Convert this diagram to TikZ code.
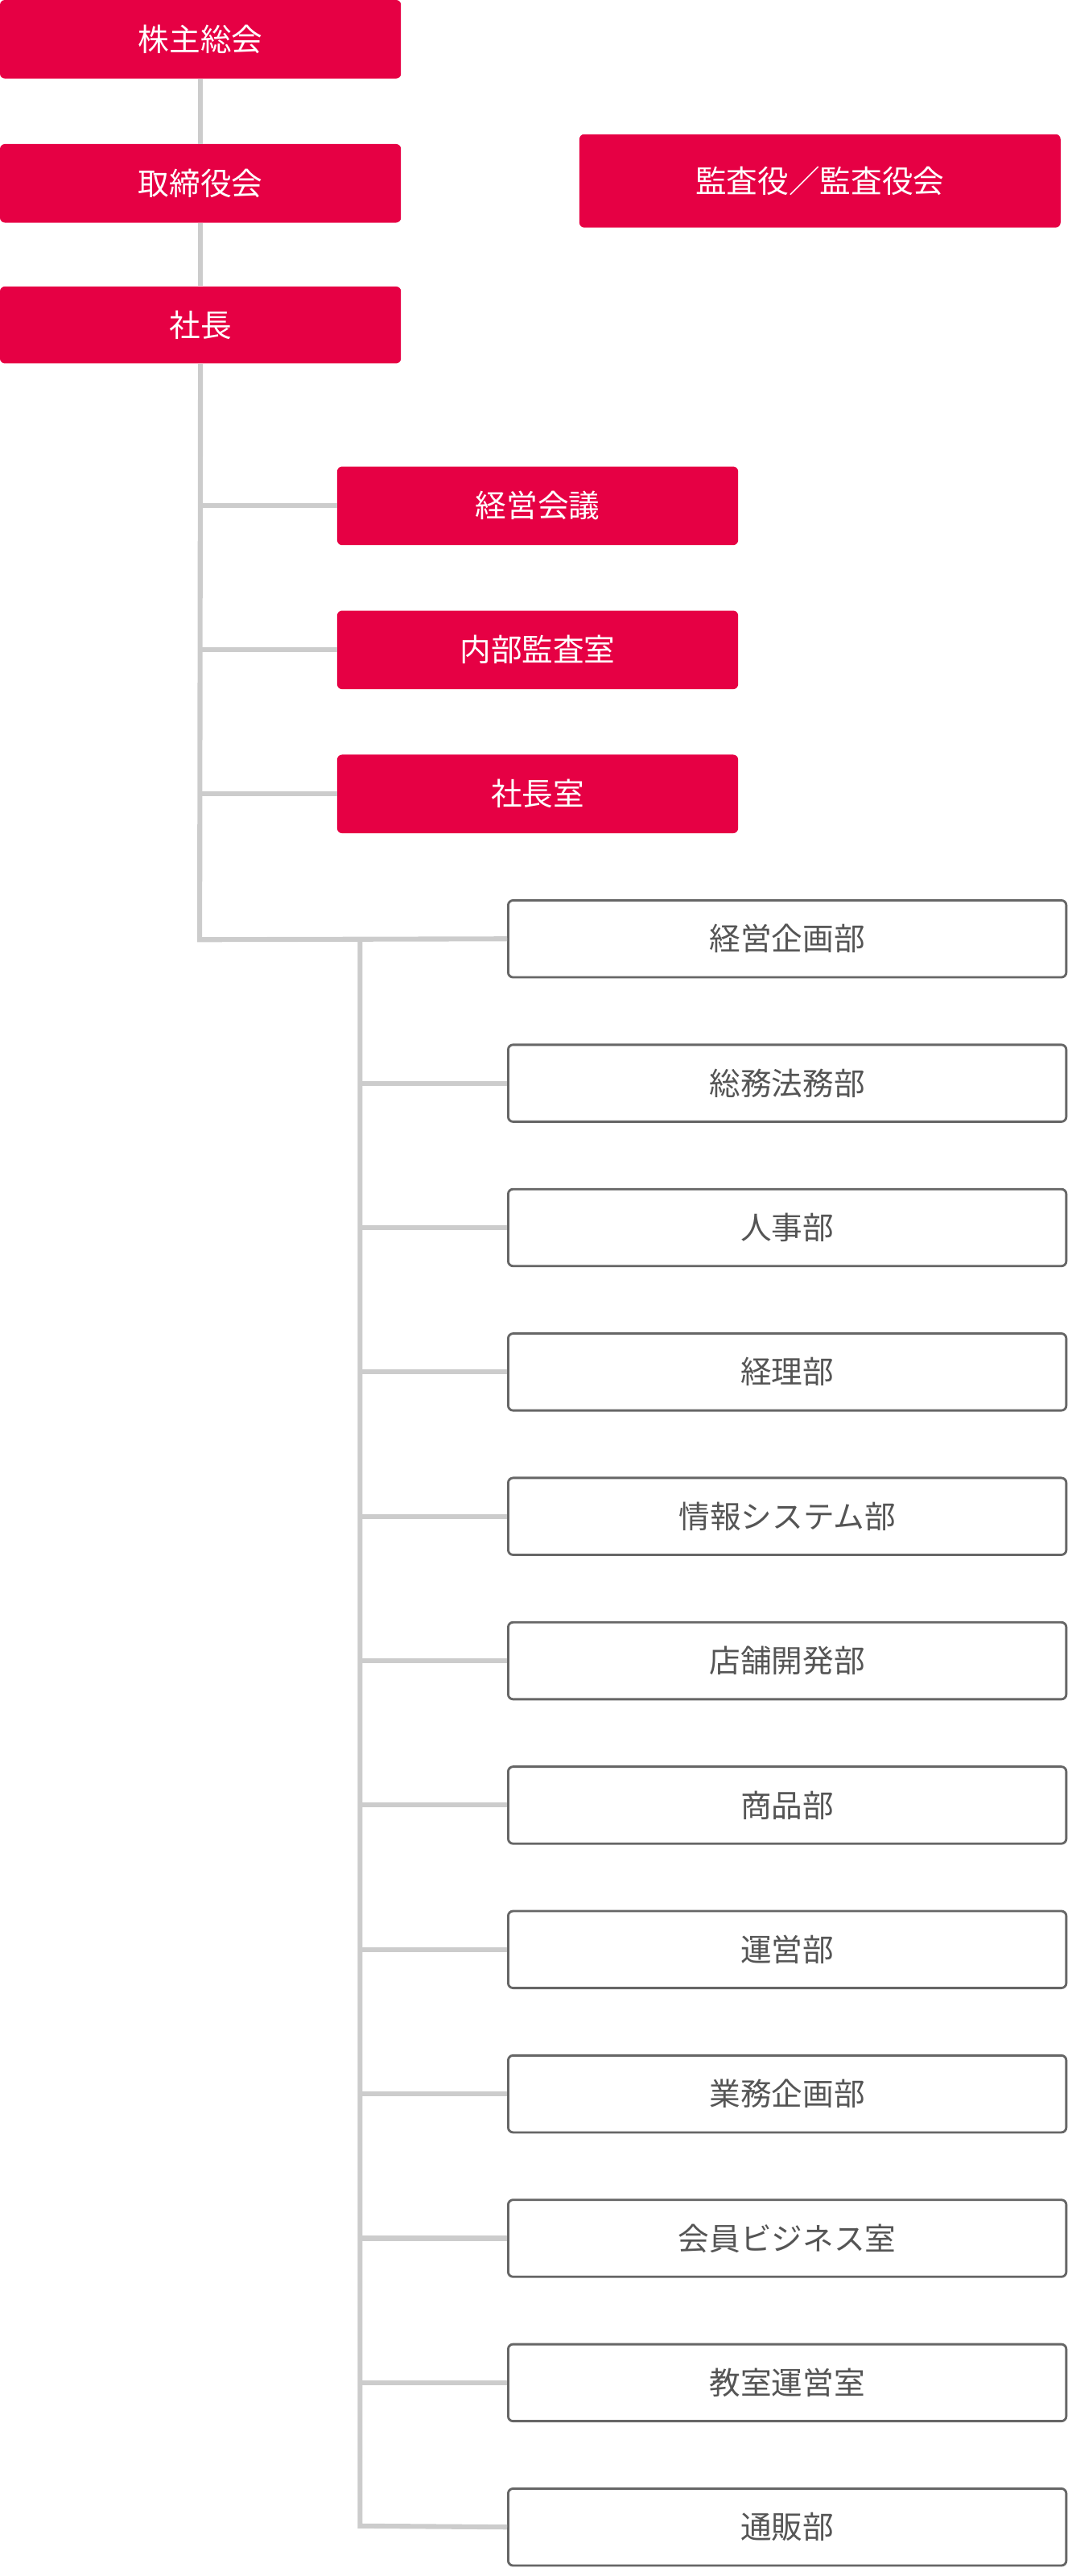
\documentclass[tikz,border=0pt]{standalone}
\usepackage{fontspec}
\newfontfamily\jp{Noto Sans CJK JP}
\definecolor{cred}{HTML}{E60044}
\definecolor{cline}{HTML}{CCCCCC}
\definecolor{cbord}{HTML}{666666}
\definecolor{ctext}{HTML}{555555}
\begin{document}
\begin{tikzpicture}[x=1pt,y=-1pt,
  redbox/.style={fill=cred,rounded corners=3pt,text=white,font=\jp\fontsize{19}{19}\selectfont,inner sep=0pt},
  whitebox/.style={draw=cbord,line width=1.4pt,fill=white,rounded corners=3pt,text=ctext,font=\jp\fontsize{19}{19}\selectfont,inner sep=0pt,minimum width=341pt,minimum height=47pt},
  conn/.style={draw=cline,line width=3pt}]
\useasboundingbox (0,0) rectangle (655,1573.6);
% connectors first
\coordinate (t1) at (122,574);
\coordinate (t2) at (220,574);
\coordinate (bend) at (220,1543);
\foreach \y in {309,397,485}{\coordinate (b\y) at (122,\y);}
\node[redbox,minimum width=245pt,minimum height=48pt] (gm) at (122.5,24) {株主総会};
\node[redbox,minimum width=245pt,minimum height=48pt] (bd) at (122.5,112) {取締役会};
\node[redbox,minimum width=245pt,minimum height=47pt] (pr) at (122.5,198.5) {社長};
\node[redbox,minimum width=294pt,minimum height=57pt] (au) at (501,110.5) {監査役／監査役会};
\node[redbox,minimum width=245pt,minimum height=48pt] (m1) at (328.5,309) {経営会議};
\node[redbox,minimum width=245pt,minimum height=48pt] (m2) at (328.5,397) {内部監査室};
\node[redbox,minimum width=245pt,minimum height=48pt] (m3) at (328.5,485) {社長室};
\foreach \i/\t in {0/経営企画部,1/総務法務部,2/人事部,3/経理部,4/情報システム部,5/店舗開発部,6/商品部,7/運営部,8/業務企画部,9/会員ビジネス室,10/教室運営室,11/通販部}{
  \node[whitebox] (d\i) at (481,{573.5+88.2*\i}) {\t};
}
\begin{scope}[on background layer/.try]
\end{scope}
\path[conn] (gm.south) -- (bd.north);
\path[conn] (bd.south) -- (pr.north);
\path[conn] (pr.south) -- (t1) -- (d0.west);
\path[conn] (b309) -- (m1.west);
\path[conn] (b397) -- (m2.west);
\path[conn] (b485) -- (m3.west);
\path[conn] (t2) -- (bend) -- (d11.west);
\foreach \i in {1,...,10}{\path[conn] (220,0|-d\i.west) -- (d\i.west);}
\end{tikzpicture}
\end{document}
